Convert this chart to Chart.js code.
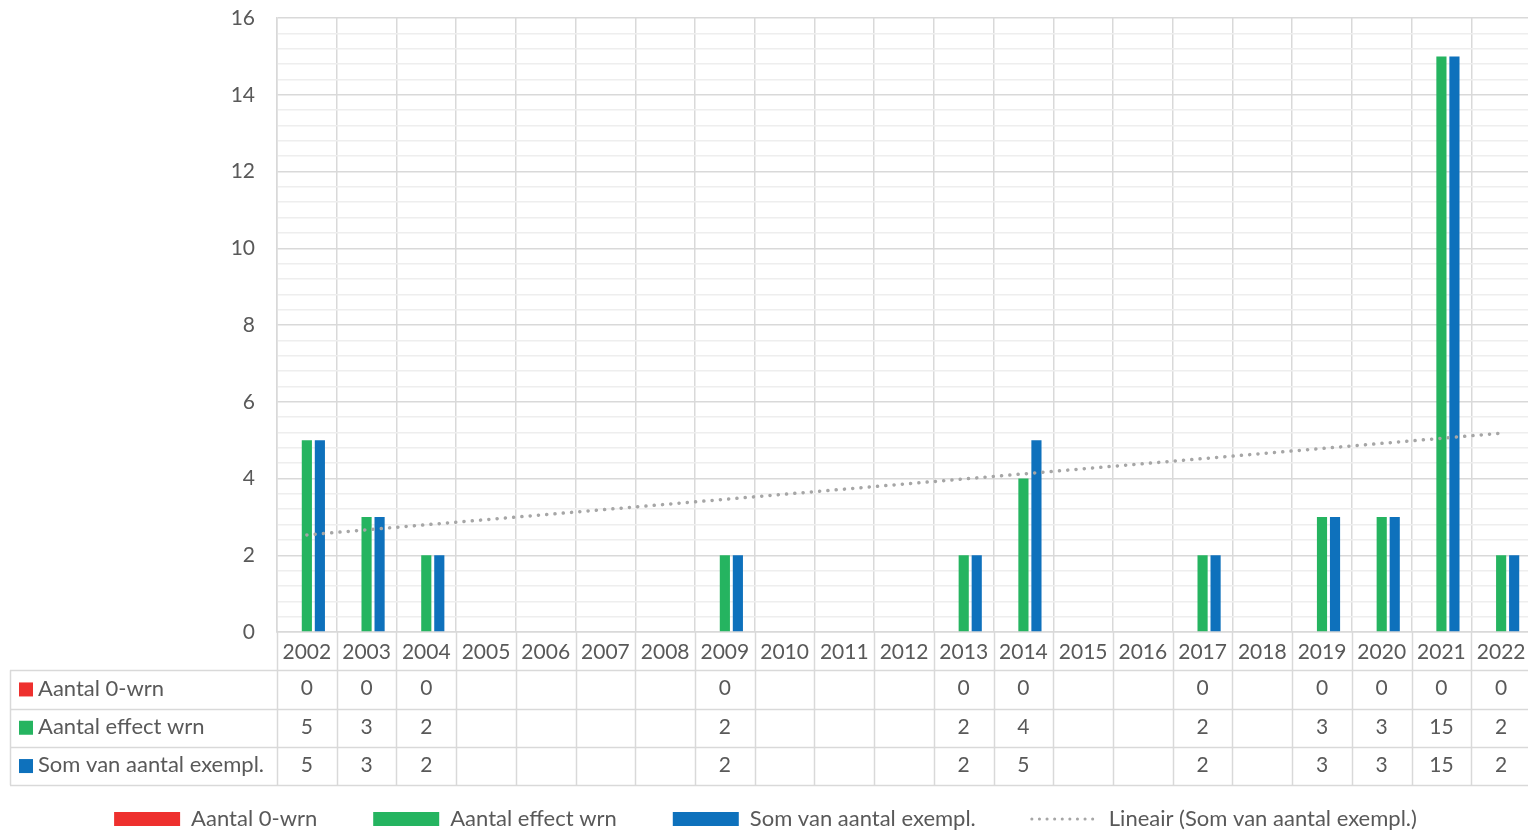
<!DOCTYPE html>
<html>
<head>
<meta charset="utf-8">
<script src="https://cdn.jsdelivr.net/npm/chart.js@4.4.0/dist/chart.umd.min.js"></script>
<style>
  html, body { margin: 0; padding: 0; background: #fff; overflow: hidden; }
  #wrap { width: 1531px; height: 840px; }
</style>
</head>
<body>
<div id="wrap"><canvas id="chart" width="1531" height="840"></canvas></div>
<script>
// values
const years = ['2002', '2003', '2004', '2005', '2006', '2007', '2008', '2009', '2010', '2011', '2012',
               '2013', '2014', '2015', '2016', '2017', '2018', '2019', '2020', '2021', '2022'];
const zeroWrn = [0, 0, 0, null, null, null, null, 0, null, null, null, 0, 0, null, null, 0, null, 0, 0, 0, 0];
const effectWrn = [5, 3, 2, null, null, null, null, 2, null, null, null, 2, 4, null, null, 2, null, 3, 3, 15, 2];
const exempl = [5, 3, 2, null, null, null, null, 2, null, null, null, 2, 5, null, null, 2, null, 3, 3, 15, 2];
// trendline end points (2002 and 2022)
const trend = [2.53, null, null, null, null, null, null, null, null, null, null,
               null, null, null, null, null, null, null, null, null, 5.18];
const seriesNames = ['Aantal 0-wrn', 'Aantal effect wrn', 'Som van aantal exempl.'];
const trendName = 'Lineair (Som van aantal exempl.)';

const RED = '#ee302e';
const GREEN = '#25b460';
const BLUE = '#0e71bc';
const TEXT = '#595959';
const MAJOR = '#d9d9d9';
const MINOR = '#eeeeee';
const FONT = 'Lato, "Noto Sans", sans-serif';

const ROW_H = 38.3;

const isMajor = v => Math.abs(v / 2 - Math.round(v / 2)) < 1e-6;

// draws the data table under the plot
const dataTable = {
    id: 'dataTable',
    afterDraw(chart) {
        const { ctx, chartArea, scales } = chart;
        const x = scales.x;
        const top = chartArea.bottom;
        const bottom = top + ROW_H * 4;
        const half = (x.getPixelForValue(1) - x.getPixelForValue(0)) / 2;
        const crisp = v => Math.round(v) + 0.5;
        ctx.save();
        ctx.strokeStyle = MAJOR;
        ctx.lineWidth = 1.5;
        ctx.beginPath();
        for (let k = 1; k <= 4; k++) {
            const yy = crisp(top + ROW_H * k);
            ctx.moveTo(10, yy);
            ctx.lineTo(chartArea.right, yy);
        }
        for (let i = 0; i <= years.length; i++) {
            const xx = crisp(x.getPixelForValue(i) - half);
            ctx.moveTo(xx, top);
            ctx.lineTo(xx, bottom);
        }
        ctx.moveTo(crisp(10), top + ROW_H);
        ctx.lineTo(crisp(10), bottom);
        ctx.stroke();

        const rows = [zeroWrn, effectWrn, exempl];
        const colors = [RED, GREEN, BLUE];
        ctx.textBaseline = 'middle';
        rows.forEach((row, r) => {
            const cy = top + ROW_H * (r + 1.5) - 1;
            ctx.fillStyle = colors[r];
            ctx.fillRect(19, cy - 6, 14, 14);
            ctx.fillStyle = TEXT;
            ctx.font = '22px ' + FONT;
            ctx.textAlign = 'left';
            ctx.fillText(seriesNames[r], 38, cy);
            ctx.font = '21px ' + FONT;
            ctx.textAlign = 'center';
            row.forEach((v, i) => {
                if (v !== null) ctx.fillText(String(v), x.getPixelForValue(i), cy);
            });
        });
        ctx.restore();
    }
};

new Chart(document.getElementById('chart'), {
    type: 'bar',
    data: {
        labels: years,
        datasets: [
            { label: seriesNames[0], data: zeroWrn, backgroundColor: RED, order: 1 },
            { label: seriesNames[1], data: effectWrn, backgroundColor: GREEN, order: 1 },
            { label: seriesNames[2], data: exempl, backgroundColor: BLUE, order: 1 },
            {
                type: 'line', label: trendName, data: trend, order: 0,
                borderColor: '#a6a6a6', backgroundColor: '#a6a6a6',
                borderWidth: 3.5, borderDash: [0.1, 8.2], borderCapStyle: 'round',
                pointRadius: 0, spanGaps: true, fill: false
            }
        ]
    },
    options: {
        responsive: false,
        animation: false,
        layout: { padding: { top: 18, left: 0, right: 0, bottom: 0 } },
        datasets: {
            bar: { categoryPercentage: 0.654, barPercentage: 0.78 }
        },
        plugins: {
            tooltip: { enabled: false },
            legend: {
                position: 'bottom',
                labels: {
                    usePointStyle: true,
                    pointStyleWidth: 66,
                    boxWidth: 66,
                    boxHeight: 14,
                    padding: 56,
                    color: TEXT,
                    font: { family: FONT, size: 22 },
                    sort: (a, b) => a.datasetIndex - b.datasetIndex,
                    generateLabels(chart) {
                        return chart.data.datasets.map((ds, i) => ds.type === 'line'
                            ? { text: ds.label, datasetIndex: i, pointStyle: 'line', strokeStyle: '#a6a6a6',
                                fillStyle: '#a6a6a6', lineWidth: 3, lineDash: [0.1, 7.5], lineCap: 'round', fontColor: TEXT }
                            : { text: ds.label, datasetIndex: i, pointStyle: 'rect', fillStyle: ds.backgroundColor,
                                strokeStyle: ds.backgroundColor, lineWidth: 0, fontColor: TEXT });
                    }
                }
            }
        },
        scales: {
            x: {
                grid: { color: MAJOR, lineWidth: 1.5, drawTicks: false, offset: true },
                border: { color: MAJOR, width: 1.5 },
                ticks: { color: TEXT, font: { family: FONT, size: 21 }, padding: 8, maxRotation: 0, autoSkip: false },
                afterFit(scale) {
                    scale.height = 120;
                    scale.paddingLeft = 0;
                    scale.paddingRight = 0;
                }
            },
            y: {
                min: 0, max: 16,
                grid: {
                    drawTicks: false,
                    lineWidth: 1.5,
                    color: c => isMajor(c.tick.value) ? MAJOR : MINOR
                },
                border: { color: MAJOR, width: 1.5 },
                ticks: {
                    stepSize: 0.4, autoSkip: false, padding: 22,
                    color: TEXT, font: { family: FONT, size: 21 },
                    callback: v => isMajor(v) ? String(Math.round(v)) : ''
                },
                afterFit(scale) {
                    scale.width = 277;
                    scale.paddingTop = 0;
                    scale.paddingBottom = 0;
                }
            }
        }
    },
    plugins: [dataTable]
});
</script>
</body>
</html>
